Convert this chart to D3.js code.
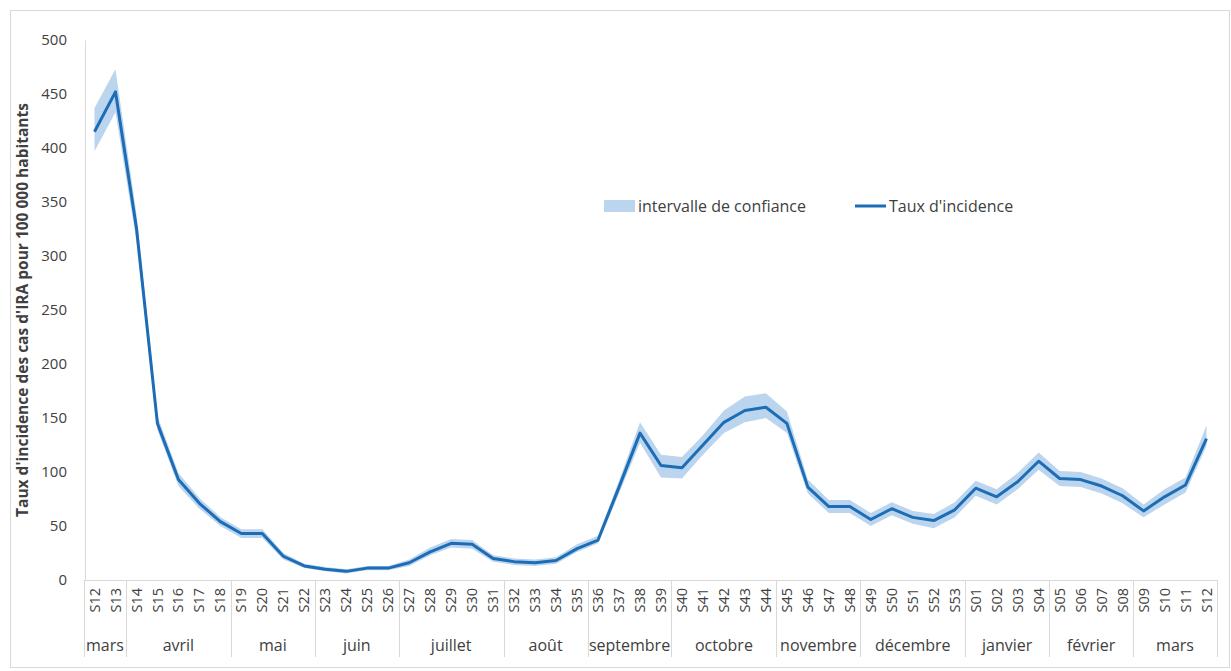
<!DOCTYPE html>
<html>
<head>
<meta charset="utf-8">
<script src="https://cdn.jsdelivr.net/npm/d3@7"></script>
<style>
  html, body { margin: 0; padding: 0; background: #fff; }
  svg { display: block; }
  text { font-family: "Open Sans", "Liberation Sans", sans-serif; fill: #404040; }
</style>
</head>
<body>
<svg id="chart" width="1231" height="671"></svg>
<script>
// ---- Data ----
const weeks = ["S12","S13","S14","S15","S16","S17","S18","S19","S20","S21","S22","S23","S24","S25","S26",
  "S27","S28","S29","S30","S31","S32","S33","S34","S35","S36","S37","S38","S39","S40","S41","S42","S43","S44",
  "S45","S46","S47","S48","S49","S50","S51","S52","S53","S01","S02","S03","S04","S05","S06","S07","S08",
  "S09","S10","S11","S12"];
const incidence = [415, 452, 326, 145, 93, 71, 54, 43, 43, 22, 13, 10, 8, 11, 11,
  16, 26, 34, 33, 20, 17, 16, 18, 29, 37, 86, 136, 106, 104, 125, 146, 157, 160,
  145, 86, 68, 68, 56, 66, 58, 55, 65, 85, 77, 91, 110, 94, 93, 87, 78,
  64, 77, 88, 131];
const ciLower = [397, 433, 314, 139, 87, 66, 50, 39, 39, 19, 11, 8, 6, 9, 9,
  13, 23, 30, 29, 17, 14, 13, 15, 26, 34, 80, 127, 95, 94, 116, 136, 146, 150,
  136, 80, 62, 62, 50, 60, 52, 48, 58, 78, 70, 84, 102, 87, 86, 80, 71,
  58, 70, 81, 124];
const ciUpper = [437, 473, 339, 152, 99, 76, 58, 47, 47, 25, 15, 12, 10, 13, 13,
  19, 30, 38, 37, 23, 20, 19, 21, 33, 41, 92, 146, 116, 114, 134, 157, 170, 173,
  156, 93, 74, 74, 62, 72, 64, 61, 72, 92, 84, 99, 118, 101, 100, 94, 85,
  70, 84, 95, 143];
const months = ["mars","avril","mai","juin","juillet","août","septembre","octobre","novembre","décembre","janvier","février","mars"];
const monthWeekCounts = [2, 5, 4, 4, 5, 4, 4, 5, 4, 5, 4, 4, 4];
const yTicks = [0, 50, 100, 150, 200, 250, 300, 350, 400, 450, 500];
const yTitle = "Taux d'incidence des cas d'IRA pour 100 000 habitants";
const legendLabels = ["intervalle de confiance", "Taux d'incidence"];

// ---- Layout ----
const svg = d3.select("#chart");
const mLeft = 84, mRight = 1217, mTop = 40, mBottom = 580;
const lineColor = "#1c6db5";
const bandColor = "#bcd5ee";
const gridGray = "#d9d9d9";

// frame
svg.append("rect").attr("x", 10.5).attr("y", 10.5).attr("width", 1219).attr("height", 657)
  .attr("fill", "#fff").attr("stroke", gridGray).attr("stroke-width", 1);

const idx = weeks.map((d, i) => i);
const x = d3.scaleBand().domain(idx).range([mLeft, mRight]).padding(0);
const y = d3.scaleLinear().domain([0, 500]).range([mBottom, mTop]);
const cx = i => x(i) + x.bandwidth() / 2;

// y axis
const yAxis = d3.axisLeft(y).tickValues(yTicks).tickSize(0).tickPadding(18);
const gy = svg.append("g").attr("transform", `translate(${mLeft + 1},0)`).call(yAxis);
gy.select(".domain").attr("stroke", gridGray);
gy.selectAll("text").style("font-size", "15px").attr("fill", "#404040")
  .style("font-family", "'Open Sans', sans-serif");

// x axis line
svg.append("line").attr("x1", mLeft).attr("x2", mRight).attr("y1", mBottom + 0.5).attr("y2", mBottom + 0.5)
  .attr("stroke", gridGray);

// week labels
const xAxis = d3.axisBottom(x).tickSize(0).tickFormat(i => weeks[i]);
const gx = svg.append("g").attr("transform", `translate(0,${mBottom})`).call(xAxis);
gx.select(".domain").remove();
gx.selectAll("text")
  .style("font-size", "14.5px")
  .style("font-family", "'Open Sans', sans-serif")
  .attr("fill", "#404040")
  .attr("text-anchor", "end")
  .attr("transform", "rotate(-90)")
  .attr("x", -8)
  .attr("y", 0)
  .attr("dy", "0.35em");

// month separators and labels
let acc = 0;
const bounds = [0];
monthWeekCounts.forEach(c => { acc += c; bounds.push(acc); });
bounds.forEach(b => {
  const xx = b < weeks.length ? x(b) : mRight;
  svg.append("line").attr("x1", Math.round(xx) + 0.5).attr("x2", Math.round(xx) + 0.5)
    .attr("y1", mBottom).attr("y2", 657).attr("stroke", gridGray);
});
months.forEach((m, k) => {
  const a = bounds[k], b = bounds[k + 1];
  const x0 = x(a), x1 = b < weeks.length ? x(b) : mRight;
  svg.append("text").attr("x", (x0 + x1) / 2).attr("y", 651)
    .attr("text-anchor", "middle").style("font-size", "16px").text(m);
});

// confidence band
const area = d3.area().x((d, i) => cx(i)).y0((d, i) => y(ciLower[i])).y1((d, i) => y(ciUpper[i]));
svg.append("path").datum(incidence).attr("d", area).attr("fill", bandColor);

// line
const line = d3.line().x((d, i) => cx(i)).y(d => y(d));
svg.append("path").datum(incidence).attr("d", line).attr("fill", "none")
  .attr("stroke", lineColor).attr("stroke-width", 3).attr("stroke-linejoin", "round");

// y title
svg.append("text").attr("transform", "translate(28,310) rotate(-90)")
  .attr("text-anchor", "middle").style("font-size", "15.5px").style("font-weight", "bold")
  .attr("fill", "#262626").text(yTitle);

// legend
const lg = svg.append("g");
lg.append("rect").attr("x", 604).attr("y", 200).attr("width", 31).attr("height", 12).attr("fill", bandColor);
lg.append("text").attr("x", 638).attr("y", 212).style("font-size", "16px").text(legendLabels[0]);
lg.append("line").attr("x1", 855).attr("x2", 886).attr("y1", 206).attr("y2", 206)
  .attr("stroke", lineColor).attr("stroke-width", 3);
lg.append("text").attr("x", 889).attr("y", 212).style("font-size", "16px").text(legendLabels[1]);
</script>
</body>
</html>
